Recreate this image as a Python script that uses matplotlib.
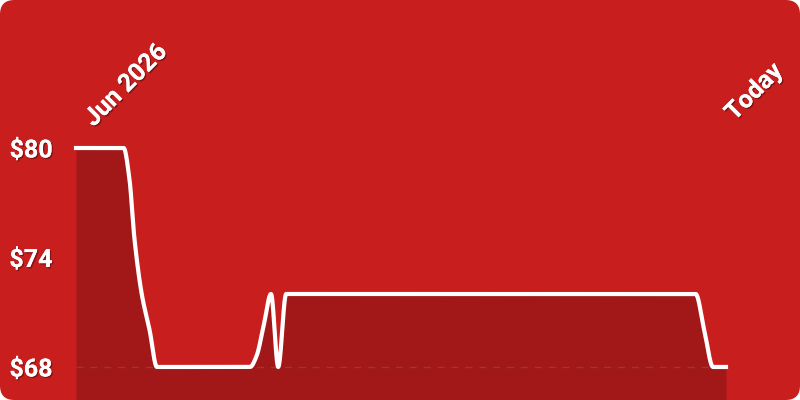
import numpy as np
import matplotlib
matplotlib.use('Agg')
import matplotlib.pyplot as plt
import matplotlib.patheffects as pe
from matplotlib.patches import FancyBboxPatch

### data (day offset from start, price in $)
days = [0, 6.6, 7.4, 8.1, 9.1, 10.2, 11.2, 24.1, 25, 26, 27, 28, 29.1, 85.8, 87, 88.2, 90]
prices = [80, 80, 78.3, 75, 72, 70, 68, 68, 68.6, 70.3, 72, 68, 72, 72, 70, 68, 68]
y_ticks = [68, 74, 80]
y_labels = ['$68', '$74', '$80']
x_labels = ['Jun 2026', 'Today']

BG = '#C81E1E'
FILL = '#A21818'


def monotone(x, y, n=30):
    '''
    monotone cubic (Fritsch-Carlson) for a smooth line through the points.
    '''
    x = np.asarray(x, float)
    y = np.asarray(y, float)
    h = np.diff(x)
    d = np.diff(y) / h
    m = np.zeros_like(y)
    m[0], m[-1] = d[0], d[-1]
    for i in range(1, len(y) - 1):
        if d[i - 1] * d[i] > 0:
            w1 = 2 * h[i] + h[i - 1]
            w2 = h[i] + 2 * h[i - 1]
            m[i] = (w1 + w2) / (w1 / d[i - 1] + w2 / d[i])
    xs, ys = [], []
    for i in range(len(h)):
        t = np.linspace(0, 1, n)
        h00 = 2 * t**3 - 3 * t**2 + 1
        h10 = t**3 - 2 * t**2 + t
        h01 = -2 * t**3 + 3 * t**2
        h11 = t**3 - t**2
        xs.append(x[i] + t * h[i])
        ys.append(h00 * y[i] + h10 * h[i] * m[i] + h01 * y[i + 1] + h11 * h[i] * m[i + 1])
    return np.concatenate(xs), np.concatenate(ys)


def main():
    fig = plt.figure(figsize=(8, 4), dpi=100)
    fig.patch.set_facecolor('white')
    card = FancyBboxPatch((0.0, 0.0), 1, 1, boxstyle='round,pad=0,rounding_size=0.018',
                          transform=fig.transFigure, facecolor=BG, edgecolor='none',
                          mutation_aspect=2, zorder=-10)
    fig.patches.append(card)

    ax = fig.add_axes([0.095, 0.0, 0.8125, 0.63])
    ax.set_zorder(5)
    ax.set_facecolor('none')
    ax.set_xlim(days[0], days[-1])
    ax.set_ylim(66.19, 80)
    for s in ax.spines.values():
        s.set_visible(False)

    xs, ys = monotone(days, prices)
    ax.fill_between(xs, ys, 66.19, color=FILL, lw=0, zorder=1)
    ax.axhline(68, color='#8a4a4a', lw=1, ls=(0, (5, 5)), alpha=0.7, zorder=2)
    ax.plot(xs, ys, color='white', lw=3, solid_joinstyle='round', clip_on=False, zorder=3)

    shadow = [pe.withSimplePatchShadow(offset=(1, -1), shadow_rgbFace='black', alpha=0.35), pe.Normal()]
    ax.set_xticks([])
    ax.set_yticks(y_ticks)
    ax.set_yticklabels(y_labels, color='white', fontsize=18, fontweight='bold',
                       family='Roboto')
    ax.tick_params(axis='y', length=0, pad=17)
    for lab in ax.get_yticklabels():
        lab.set_path_effects(shadow)

    offsets = [(21, 17), (12, 23)]
    for xv, lab, off in zip([days[0], days[-1]], x_labels, offsets):
        ax.annotate(lab, xy=(xv, 1), xycoords=('data', 'axes fraction'),
                    xytext=off, textcoords='offset pixels',
                    rotation=45, rotation_mode='anchor', ha='left', va='bottom',
                    color='white', fontsize=18, fontweight='bold',
                    family='Roboto', path_effects=shadow)

    fig.savefig('out.png', dpi=100, facecolor='white')


if __name__ == '__main__':
    main()
